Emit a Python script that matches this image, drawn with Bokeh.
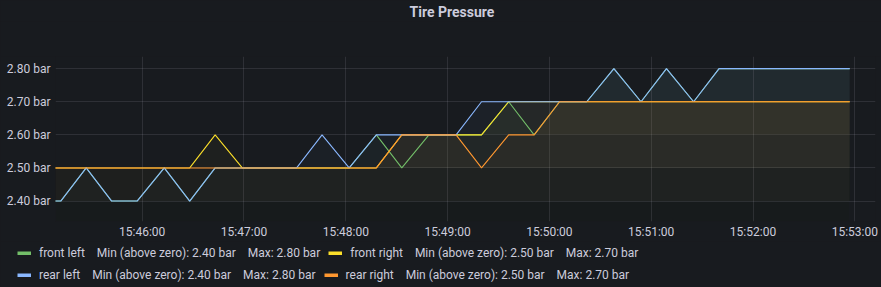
import numpy as np
import pandas as pd
from bokeh.plotting import figure
from bokeh.layouts import column, row
from bokeh.models import (FixedTicker, DatetimeTickFormatter, PrintfTickFormatter,
                          Legend, LegendItem, Range1d, Title)
from bokeh.embed import file_html
from bokeh.resources import INLINE

# ---------------- data ----------------
DATE = "2024-01-01"
TIMES = ["15:44:56", "15:45:12", "15:45:27", "15:45:42", "15:45:57", "15:46:13",
         "15:46:28", "15:46:43", "15:46:59", "15:47:14", "15:47:31", "15:47:46",
         "15:48:02", "15:48:18", "15:48:33", "15:48:49", "15:49:05", "15:49:20",
         "15:49:36", "15:49:51", "15:50:06", "15:50:22", "15:50:38", "15:50:54",
         "15:51:09", "15:51:25", "15:51:40", "15:51:56", "15:52:11", "15:52:26",
         "15:52:42", "15:52:57"]
FRONT_LEFT = [2.4, 2.4, 2.5, 2.4, 2.4, 2.5, 2.4, 2.5, 2.5, 2.5, 2.5, 2.5,
              2.5, 2.6, 2.5, 2.6, 2.6, 2.6, 2.7, 2.6, 2.7, 2.7, 2.8, 2.7,
              2.8, 2.7, 2.8, 2.8, 2.8, 2.8, 2.8, 2.8]
FRONT_RIGHT = [2.5, 2.5, 2.5, 2.5, 2.5, 2.5, 2.5, 2.6, 2.5, 2.5, 2.5, 2.5,
               2.5, 2.5, 2.6, 2.6, 2.6, 2.6, 2.7, 2.7, 2.7, 2.7, 2.7, 2.7,
               2.7, 2.7, 2.7, 2.7, 2.7, 2.7, 2.7, 2.7]
REAR_LEFT = [2.4, 2.4, 2.5, 2.4, 2.4, 2.5, 2.4, 2.5, 2.5, 2.5, 2.5, 2.6,
             2.5, 2.6, 2.6, 2.6, 2.6, 2.7, 2.7, 2.7, 2.7, 2.7, 2.8, 2.7,
             2.8, 2.7, 2.8, 2.8, 2.8, 2.8, 2.8, 2.8]
REAR_RIGHT = [2.5, 2.5, 2.5, 2.5, 2.5, 2.5, 2.5, 2.5, 2.5, 2.5, 2.5, 2.5,
              2.5, 2.5, 2.6, 2.6, 2.6, 2.5, 2.6, 2.6, 2.7, 2.7, 2.7, 2.7,
              2.7, 2.7, 2.7, 2.7, 2.7, 2.7, 2.7, 2.7]
SERIES_NAMES = ["front left", "front right", "rear left", "rear right"]
SERIES = [FRONT_LEFT, FRONT_RIGHT, REAR_LEFT, REAR_RIGHT]
Y_TICKS = [2.4, 2.5, 2.6, 2.7, 2.8]
X_TICK_LABELS = ["15:46:00", "15:47:00", "15:48:00", "15:49:00",
                 "15:50:00", "15:51:00", "15:52:00", "15:53:00"]
TITLE = "Tire Pressure"

# ---------------- style ----------------
COLORS = ["#73BF69", "#FADE2A", "#8AB8FF", "#FF9830"]
FILL_TOP_ALPHAS = [0.05, 0.06, 0.07, 0.09]
BG = "#181b1f"
TEXT = "#ccccdc"
FONT = "Roboto"
Y_VIEW = (2.3382, 2.8367)
X_VIEW = ("15:45:08.9", "15:53:12.2")
BG_STYLE = {"background-color": BG}


def ts(t):
    return pd.Timestamp(f"{DATE} {t}")


def blank_strip(height):
    f = figure(width=881, height=height, output_backend="svg",
               toolbar_location=None,
               x_range=Range1d(0, 1), y_range=Range1d(0, 1),
               x_axis_location=None, y_axis_location=None,
               min_border=0, min_border_left=0, min_border_right=0,
               min_border_top=0, min_border_bottom=0)
    f.background_fill_color = BG
    f.border_fill_color = BG
    f.outline_line_color = None
    f.xgrid.visible = False
    f.ygrid.visible = False
    return f


x = pd.to_datetime([f"{DATE} {t}" for t in TIMES])

# ---------------- title strip ----------------
tf = blank_strip(56)
tf.add_layout(Title(text=TITLE, text_font=FONT, text_font_size="14px",
                    text_font_style="bold", text_color=TEXT, align="left",
                    offset=409, standoff=3), "above")

# ---------------- main chart ----------------
p = figure(width=881, height=185, output_backend="svg", toolbar_location=None,
           x_axis_type="datetime",
           x_range=Range1d(ts(X_VIEW[0]), ts(X_VIEW[1])),
           y_range=Range1d(*Y_VIEW),
           min_border_left=55, min_border_right=6,
           min_border_top=0, min_border_bottom=18)
p.background_fill_color = BG
p.border_fill_color = BG
p.outline_line_color = None

xaxis_main = p.below[0]
yaxis_main = p.left[0]

p.xgrid.grid_line_color = TEXT
p.xgrid.grid_line_alpha = 0.12
p.ygrid.grid_line_color = TEXT
p.ygrid.grid_line_alpha = 0.12

yaxis_main.ticker = FixedTicker(ticks=Y_TICKS)
yaxis_main.formatter = PrintfTickFormatter(format="%.2f bar")
xaxis_main.ticker = FixedTicker(ticks=[ts(t).value / 1e6 for t in X_TICK_LABELS])
fmt = "%H:%M:%S"
xaxis_main.formatter = DatetimeTickFormatter(seconds=fmt, minsec=fmt, minutes=fmt,
                                             hourmin=fmt, hours=fmt, days=fmt,
                                             months=fmt, years=fmt)
for ax in (xaxis_main, yaxis_main):
    ax.axis_line_color = None
    ax.major_tick_line_color = None
    ax.minor_tick_line_color = None
    ax.major_tick_out = 0
    ax.major_tick_in = 0
    ax.minor_tick_out = 0
    ax.minor_tick_in = 0
    ax.major_label_text_font = FONT
    ax.major_label_text_font_size = "12px"
    ax.major_label_text_color = TEXT
yaxis_main.major_label_standoff = 5
xaxis_main.major_label_standoff = 3

# gradient-like fills (horizontal bands with fading opacity)
bounds = [Y_VIEW[0]] + Y_TICKS
for vals, color, top_alpha in zip(SERIES, COLORS, FILL_TOP_ALPHAS):
    v = np.array(vals)
    for a, b in zip(bounds[:-1], bounds[1:]):
        mid = (a + b) / 2
        alpha = top_alpha * (mid - Y_VIEW[0]) / (Y_VIEW[1] - Y_VIEW[0])
        y2 = np.clip(v, a, b)
        p.varea(x=x, y1=np.full(len(v), a), y2=y2, fill_color=color,
                fill_alpha=alpha)

for vals, color in zip(SERIES, COLORS):
    p.line(x, vals, line_color=color, line_width=1.1)

# ---------------- legend strip ----------------
lf = blank_strip(46)
GAP = "\u00a0\u00a0\u00a0\u00a0"
items = []
for vals, name, color in zip(SERIES, SERIES_NAMES, COLORS):
    v = np.array(vals)
    mn = v[v > 0].min()
    mx = v.max()
    # legend-only proxy (NaN point: nothing is drawn in the strip itself)
    r = lf.line(x=[np.nan], y=[np.nan], line_color=color, line_width=4)
    label = (f"{name}{GAP}Min (above zero): {mn:.2f} bar"
             f"{GAP}Max: {mx:.2f} bar")
    items.append(LegendItem(label=label, renderers=[r]))

for row_items, loc in ((items[0:2], (17, 23)), (items[2:4], (17, 1))):
    lg = Legend(items=row_items, orientation="horizontal", location=loc,
                background_fill_alpha=0, border_line_color=None,
                padding=0, margin=0, spacing=8, label_standoff=8,
                glyph_width=14, glyph_height=4, label_height=22,
                label_text_font=FONT, label_text_font_size="12px",
                label_text_color=TEXT)
    lf.add_layout(lg)

layout = column(row(tf, styles=BG_STYLE), row(p, styles=BG_STYLE),
                row(lf, styles=BG_STYLE), spacing=0, styles=BG_STYLE)
open("out.html", "w").write(file_html(layout, INLINE))
